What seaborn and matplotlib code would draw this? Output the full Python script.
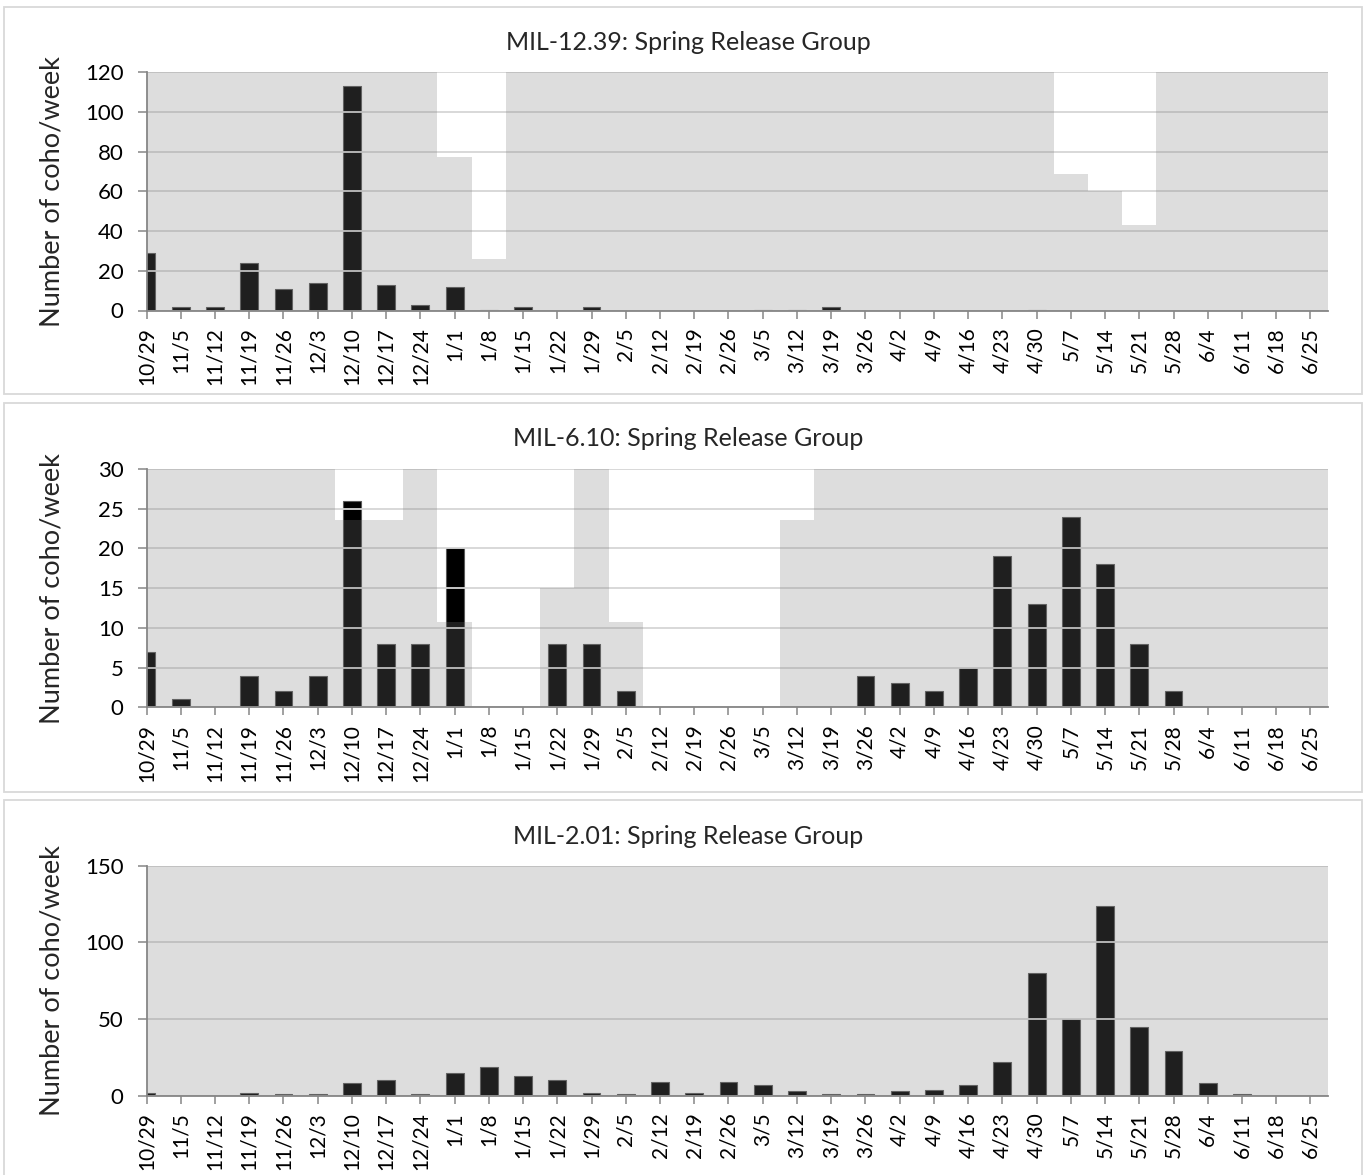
import numpy as np
import pandas as pd
import matplotlib
matplotlib.use("Agg")
import matplotlib.pyplot as plt
import seaborn as sns
from matplotlib.patches import Rectangle

# Weekly sampling periods (week starting date)
weeks = ["10/29", "11/5", "11/12", "11/19", "11/26", "12/3", "12/10", "12/17",
         "12/24", "1/1", "1/8", "1/15", "1/22", "1/29", "2/5", "2/12", "2/19",
         "2/26", "3/5", "3/12", "3/19", "3/26", "4/2", "4/9", "4/16", "4/23",
         "4/30", "5/7", "5/14", "5/21", "5/28", "6/4", "6/11", "6/18", "6/25"]

# Coho captured per week at each trap
coho_mil1239 = [29, 2, 2, 24, 11, 14, 113, 13, 3, 12, 0.5, 2, 0, 2, 0, 0, 0,
                0, 0.5, 0.5, 2, 0, 0, 0, 0, 0, 0.5, 0, 0, 0, 0, 0, 0, 0, 0]
coho_mil610 = [7, 1, 0, 4, 2, 4, 26, 8, 8, 20, 0, 0, 8, 8, 2, 0, 0,
               0, 0, 0, 0, 4, 3, 2, 5, 19, 13, 24, 18, 8, 2, 0, 0, 0, 0]
coho_mil201 = [2, 0, 0, 2, 1, 1, 8, 10, 1, 15, 19, 13, 10, 2, 1, 9, 2,
               9, 7, 3, 1, 1, 3, 4, 7, 22, 80, 50, 124, 45, 29, 8, 1, 0, 0]

# Days the trap fished in each week (out of 7)
days_mil1239 = [7, 7, 7, 7, 7, 7, 7, 7, 7, 4.5, 1.5, 7, 7, 7, 7, 7, 7,
                7, 7, 7, 7, 7, 7, 7, 7, 7, 7, 4, 3.5, 2.5, 7, 7, 7, 7, 7]
days_mil610 = [7, 7, 7, 7, 7, 7, 5.5, 5.5, 7, 2.5, 0, 0, 3.5, 7, 2.5, 0, 0,
               0, 0, 5.5, 7, 7, 7, 7, 7, 7, 7, 7, 7, 7, 7, 7, 7, 7, 7]
days_mil201 = [7] * 35

panels = [
    ("MIL-12.39: Spring Release Group", coho_mil1239, days_mil1239, 120, [0, 20, 40, 60, 80, 100, 120]),
    ("MIL-6.10: Spring Release Group", coho_mil610, days_mil610, 30, [0, 5, 10, 15, 20, 25, 30]),
    ("MIL-2.01: Spring Release Group", coho_mil201, days_mil201, 150, [0, 50, 100, 150]),
]

sns.set_style("white")
plt.rcParams["font.family"] = ["Lato", "DejaVu Sans"]

W, H = 1366, 1175
fig = plt.figure(figsize=(W / 100, H / 100), dpi=100)

AX_GRAY = "#868686"
# plot-area boxes (pixel units: top, bottom) and chart-area frames
plot_px = [(72, 310.5), (469, 707.3), (865.7, 1095.7)]
frame_px = [(7, 394), (403, 792), (800, 1185)]
title_px = [42, 438, 836]
left_px, right_px = 146.5, 1328.3

for (title, coho, days, ymax, yticks), (top, bot), (ftop, fbot), ty in zip(
        panels, plot_px, frame_px, title_px):
    fig.patches.append(Rectangle((4 / W, 1 - fbot / H), (1362 - 4) / W, (fbot - ftop) / H,
                                 transform=fig.transFigure, fill=False,
                                 edgecolor="#d9d9d9", linewidth=1.3, zorder=0))
    ax = fig.add_axes([left_px / W, 1 - bot / H, (right_px - left_px) / W, (bot - top) / H])
    ax.set_facecolor("none")

    df = pd.DataFrame({
        "week": weeks,
        "coho": coho,
        "fished": np.array(days, dtype=float) / 7.0 * ymax,
    })

    # catch bars, then the semi-transparent sampling-effort layer over them
    sns.barplot(data=df, x="week", y="coho", order=weeks, color="black",
                saturation=1, width=0.52, errorbar=None, edgecolor="#5a5a5a",
                linewidth=0.8, ax=ax, zorder=2)
    sns.barplot(data=df, x="week", y="fished", order=weeks, color="#7d7d7d",
                saturation=1, width=1.0, errorbar=None, alpha=0.255,
                linewidth=0, antialiased=False, ax=ax, zorder=3)

    ax.set_xlim(0, 34.52)
    ax.set_ylim(0, ymax)
    ax.set_yticks(yticks)
    ax.set_yticklabels([str(t) for t in yticks], fontsize=16)
    ax.set_xticks(range(len(weeks)))
    ax.set_xticklabels(weeks, rotation=90, fontsize=15)
    ax.set_xlabel("")
    ax.set_ylabel("")

    ax.yaxis.grid(True, color="#d6d6d6", linewidth=1.3, zorder=1)
    ax.set_axisbelow(False)
    for gl in ax.get_ygridlines():
        gl.set_zorder(1)
    ax.xaxis.grid(False)

    for side in ("top", "right"):
        ax.spines[side].set_visible(False)
    for side in ("left", "bottom"):
        ax.spines[side].set_color(AX_GRAY)
        ax.spines[side].set_linewidth(1.3)
        ax.spines[side].set_zorder(5)
    ax.tick_params(axis="x", length=5.5, width=1.1, color=AX_GRAY, pad=6.5,
                   direction="out", bottom=True, labelcolor="black")
    ax.tick_params(axis="y", length=6.5, width=1.1, color=AX_GRAY, pad=10,
                   direction="out", left=True, labelcolor="black")

    fig.text(688 / W, 1 - ty / H, title, ha="center", va="center", fontsize=18)
    fig.text(52 / W, 1 - (top + bot) / 2 / H, "Number of coho/week", rotation=90,
             ha="center", va="center", fontsize=19.5)

fig.savefig("out.png", dpi=100, facecolor="white")
